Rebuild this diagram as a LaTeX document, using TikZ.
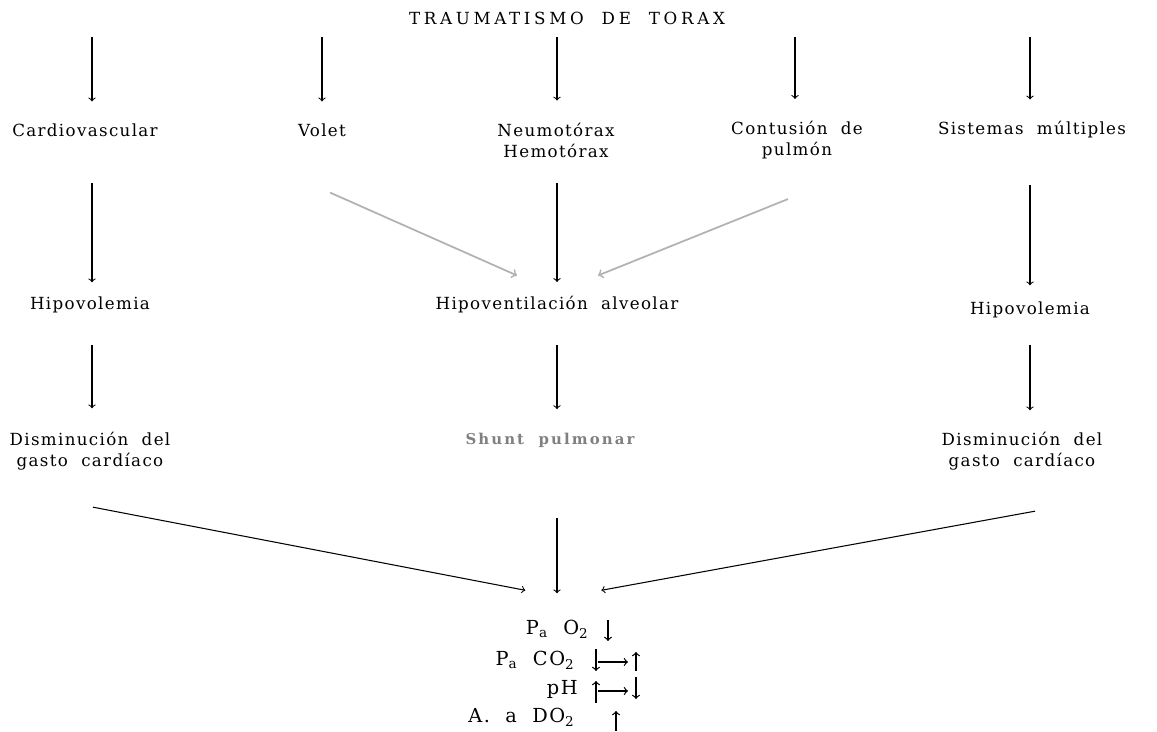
\documentclass[tikz,border=0pt]{standalone}
\usepackage{fontspec}
\setmainfont{DejaVu Serif}[LetterSpace=8,WordSpace=2]
\usetikzlibrary{arrows}
\newcommand{\sub}[1]{\textsubscript{#1}}

\begin{document}
\begin{tikzpicture}[x=0.02cm,y=-0.02cm,>=to,font=\fontsize{9.5}{12}\selectfont,
    box/.style={align=center,inner sep=1pt},
    res/.style={inner sep=0pt,anchor=base east,font=\fontsize{11}{13}\selectfont},
    flow/.style={->,line width=0.6pt},
    grayflow/.style={->,line width=1pt,gray!60},
    mini/.style={->,line width=0.7pt}]

    \useasboundingbox (0,0) rectangle (1157,732);

    \node[box,font=\fontsize{9.5}{11}\selectfont\addfontfeatures{LetterSpace=22}] (T) at (567,18) {TRAUMATISMO DE TORAX};

    % first level
    \node[box] (CV) at (85,130) {Cardiovascular};
    \node[box] (VO) at (322,130) {Volet};
    \node[box] (NH) at (556,140) {Neumotórax\\Hemotórax};
    \node[box] (CP) at (797,140) {Contusión de\\pulmón};
    \node[box] (SM) at (1032,130) {Sistemas múltiples};

    \coordinate (s1) at (92,37);
    \coordinate (s2) at (322,37);
    \coordinate (s3) at (557,37);
    \coordinate (s4) at (795,37);
    \coordinate (s5) at (1030,37);
    \draw[flow,shorten >=4mm] (s1) -- (s1 |- CV.north);
    \draw[flow,shorten >=4mm] (s2) -- (s2 |- VO.north);
    \draw[flow,shorten >=4mm] (s3) -- (s3 |- NH.north);
    \draw[flow,shorten >=4mm] (s4) -- (s4 |- CP.north);
    \draw[flow,shorten >=4mm] (s5) -- (s5 |- SM.north);

    % second level
    \node[box] (HV1) at (90,305) {Hipovolemia};
    \node[box] (HA) at (557,305) {Hipoventilación alveolar};
    \node[box] (HV2) at (1030,310) {Hipovolemia};

    \draw[flow,shorten <=8.9mm,shorten >=2.5mm] (s1 |- CV.south) -- (s1 |- HV1.north);
    \draw[flow,shorten <=4.7mm,shorten >=2.5mm] (s3 |- NH.south) -- (s3 |- HA.north);
    \draw[flow,shorten <=8.9mm,shorten >=2.9mm] (s5 |- SM.south) -- (s5 |- HV2.north);
    \draw[grayflow] ([shift={(8,54)}]VO.south) -- ([shift={(-40,-19)}]HA.north);
    \draw[grayflow] ([shift={(-9,38)}]CP.south) -- ([shift={(41,-19)}]HA.north);

    % third level
    \node[box] (DG1) at (90,451) {Disminución del\\gasto cardíaco};
    \node[box,font=\fontsize{8.5}{12}\selectfont\bfseries\addfontfeatures{LetterSpace=14},text=black!50] (SP) at (550,440) {Shunt pulmonar};
    \node[box] (DG2) at (1022,451) {Disminución del\\gasto cardíaco};

    \draw[flow,shorten <=5.9mm,shorten >=4.3mm] (s1 |- HV1.south) -- (s1 |- DG1.north);
    \draw[flow,shorten <=5.9mm,shorten >=4.3mm] (s3 |- HA.south) -- (s3 |- SP.north);
    \draw[flow,shorten <=4.9mm,shorten >=3.9mm] (s5 |- HV2.south) -- (s5 |- DG2.north);

    % gases
    \node[res] (PO) at (589,635) {P\sub{a} O\sub{2}};
    \node[res] (PC) at (575,666) {P\sub{a} CO\sub{2}};
    \node[res] (PH) at (578,695) {pH};
    \node[res] (AD) at (575,723) {A. a DO\sub{2}};

    \draw[flow] ([shift={(3,35)}]DG1.south) -- ([shift={(-32,-30)}]PO.north);
    \draw[flow,shorten <=13.8mm,shorten >=5.4mm] (s3 |- SP.south) -- (s3 |- PO.north);
    \draw[flow] ([shift={(13,39)}]DG2.south) -- ([shift={(44,-30)}]PO.north);

    \draw[mini] ([shift={(19,-15)}]PO.base east) -- ([shift={(19,6)}]PO.base east);
    \draw[mini] ([shift={(21,-17)}]PC.base east) -- ([shift={(21,5)}]PC.base east);
    \draw[mini] ([shift={(23,-4)}]PC.base east) -- ([shift={(53,-4)}]PC.base east);
    \draw[mini] ([shift={(61,5)}]PC.base east) -- ([shift={(61,-14)}]PC.base east);
    \draw[mini] ([shift={(18,8)}]PH.base east) -- ([shift={(18,-14)}]PH.base east);
    \draw[mini] ([shift={(20,-4)}]PH.base east) -- ([shift={(50,-4)}]PH.base east);
    \draw[mini] ([shift={(58,-18)}]PH.base east) -- ([shift={(58,4)}]PH.base east);
    \draw[mini] ([shift={(41,8)}]AD.base east) -- ([shift={(41,-12)}]AD.base east);

\end{tikzpicture}
\end{document}
